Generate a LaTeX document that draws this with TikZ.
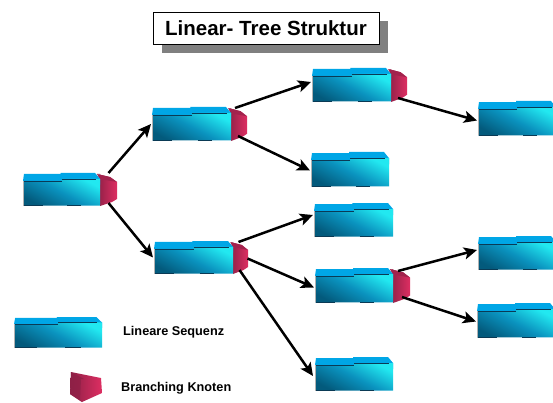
\documentclass[tikz,border=0pt]{standalone}
\usepackage{fontspec}
\setmainfont{Liberation Sans}
\usetikzlibrary{arrows.meta}
\definecolor{topblue}{HTML}{00A6E6}
\definecolor{darkteal}{HTML}{035A7C}
\definecolor{midteal}{HTML}{0A92BE}
\definecolor{cyanlight}{HTML}{22E8F0}
\definecolor{edgeblue}{HTML}{0A3A55}
\definecolor{redlight}{HTML}{DE2E62}
\definecolor{reddark}{HTML}{8E2046}
\tikzset{
  anchorbox/.style={inner sep=0pt,outer sep=0pt,draw=none},
  topface/.style={fill=topblue,draw=none},
  frontface/.style={draw=none,shading=axis,bottom color=darkteal,top color=cyanlight,middle color=midteal,shading angle=-28},
  darkedge/.style={draw=edgeblue,line width=0.9pt},
  softedge/.style={draw=gray!60,line width=0.4pt},
  redface/.style={draw=none,shading=axis,left color=reddark,right color=redlight},
  redtop/.style={fill=reddark!75!redlight,draw=none},
  conn/.style={draw=black,line width=2.5pt,-{Stealth[length=13pt,width=12pt,inset=3pt]}},
  titlebox/.style={draw=black,fill=white,line width=0.7pt,minimum width=226pt,minimum height=32pt,inner sep=0pt,font=\fontsize{20.5}{22}\selectfont\bfseries},
  shadowbox/.style={fill=black!50,draw=none,minimum width=226pt,minimum height=32pt,inner sep=0pt},
  legendtext/.style={font=\fontsize{12.7}{14}\selectfont\bfseries,inner sep=0pt,anchor=west}
}
% #1 name, #2 x1, #3 y1, #4 x2, #5 y2 (pixel coordinates, y downwards)
\newcommand{\seqbox}[5]{%
  \pgfmathsetmacro{\bw}{#4-#2}\pgfmathsetmacro{\bh}{#5-#3}%
  \node[anchorbox,minimum width=\bw pt,minimum height=\bh pt] (#1) at ({(#2+#4)/2},{-(#3+#5)/2}) {};
  \begin{scope}[shift={(#2,-#3)},xscale=\bw/78,yscale=\bh/34]
    \path[topface] (0,-8) -- (1,-1) -- (38,-1) -- (38,0) -- (73,0) -- (78,-6) -- (78,-12) -- (0,-12) -- cycle;
    \path[frontface] (0,-8) -- (39,-8) -- (39,-6) -- (78,-6) -- (78,-33.5) -- (0,-33.5) -- cycle;
    \draw[darkedge,line width=0.6pt] (0.5,-8.3) -- (39,-8.3) (39,-6.3) -- (74,-6.3);
    \draw[softedge] (0,-8) -- (0,-33.5);
    \draw[darkedge] (1,-33.6) -- (20,-33.6) (45,-33.6) -- (59,-33.6);
  \end{scope}
}
% #1 name, #2 x1, #3 y1, #4 x2, #5 y2
\newcommand{\brbox}[5]{%
  \pgfmathsetmacro{\bw}{#4-#2}\pgfmathsetmacro{\bh}{#5-#3}%
  \node[anchorbox,minimum width=\bw pt,minimum height=\bh pt] (#1) at ({(#2+#4)/2},{-(#3+#5)/2}) {};
  \begin{scope}[shift={(#2,-#3)},xscale=\bw/17,yscale=\bh/33]
    \path[redface] (-3,-1) -- (10,-4) -- (17,-9) -- (17,-26) -- (12,-29) -- (0,-33) -- (0,-1) -- cycle;
    \path[redtop] (-3,-1) -- (10,-4) -- (17,-9) -- (5,-7) -- (0,-7) -- cycle;
  \end{scope}
}
\begin{document}
\begin{tikzpicture}[x=1pt,y=1pt]
\useasboundingbox (0,0) rectangle (553,-403);
\clip (0,0) rectangle (553,-403);
% title
\node[shadowbox] (shadow) at (275,-37) {};
\node[titlebox] (title) at (266,-28) {Linear- Tree Struktur};
% branch nodes
\brbox{b1}{100}{173}{117}{206}
\brbox{b2}{231}{107}{247}{141}
\brbox{b3}{233}{241}{248}{274}
\brbox{b4}{391}{68}{407}{102}
\brbox{b8}{393}{268}{410}{303}
% sequence boxes
\seqbox{n1}{23}{173}{100}{206}
\seqbox{n2}{152}{107}{231}{141}
\seqbox{n3}{154}{241}{233}{274}
\seqbox{n4}{312}{68}{391}{102}
\seqbox{n5}{311}{152}{389}{187}
\seqbox{n6}{478}{101}{556}{136}
\seqbox{n7}{314}{203}{393}{237}
\seqbox{n8}{315}{268}{393}{303}
\seqbox{n9}{478}{236}{556}{270}
\seqbox{n10}{477}{303}{555}{338}
\seqbox{n11}{315}{357}{393}{391}
% connectors
\draw[conn] (b1.north) -- ([xshift=-1pt]n2.west);
\draw[conn] ([yshift=3pt]b1.south) -- ([xshift=-1pt]n3.west);
\draw[conn] ([xshift=-4pt,yshift=-1pt]b2.north) -- ([xshift=-1pt,yshift=3pt]n4.west);
\draw[conn] ([xshift=-1pt,yshift=5pt]b2.south) -- ([xshift=-1pt,yshift=-1pt]n5.west);
\draw[conn] ([xshift=-1pt,yshift=4pt]b4.south) -- ([xshift=-1pt,yshift=-2pt]n6.west);
\draw[conn] ([xshift=-2pt,yshift=-1pt]b3.north) -- ([xshift=-1pt,yshift=5pt]n7.west);
\draw[conn] ([xshift=7pt,yshift=-1pt]b3.center) -- ([xshift=-1pt,yshift=-2pt]n8.west);
\draw[conn] ([xshift=-1pt,yshift=4pt]b3.south) -- ([xshift=-2pt,yshift=-2pt]n11.west);
\draw[conn] ([xshift=-3.5pt,yshift=-3pt]b8.north) -- ([xshift=-1pt,yshift=3pt]n9.west);
\draw[conn] ([xshift=0.5pt,yshift=6pt]b8.south) -- ([xshift=-1pt,yshift=-1pt]n10.west);
% legend
\seqbox{lseq}{14}{317}{102}{348}
\node[anchorbox,minimum width=32pt,minimum height=30pt] (lbr) at (86,-387) {};
\path[redface] (71,-372) -- (101,-378) -- (102,-393) -- (82,-402) -- (70,-394) -- cycle;
\path[fill=reddark,opacity=.75] (71,-372) -- (84,-379) -- (81,-379) -- (80,-400) -- (82,-402) -- (70,-394) -- cycle;
\node[legendtext] (t1) at (123,-332) {Lineare Sequenz};
\node[legendtext] (t2) at (121,-388) {Branching Knoten};
\end{tikzpicture}
\end{document}
